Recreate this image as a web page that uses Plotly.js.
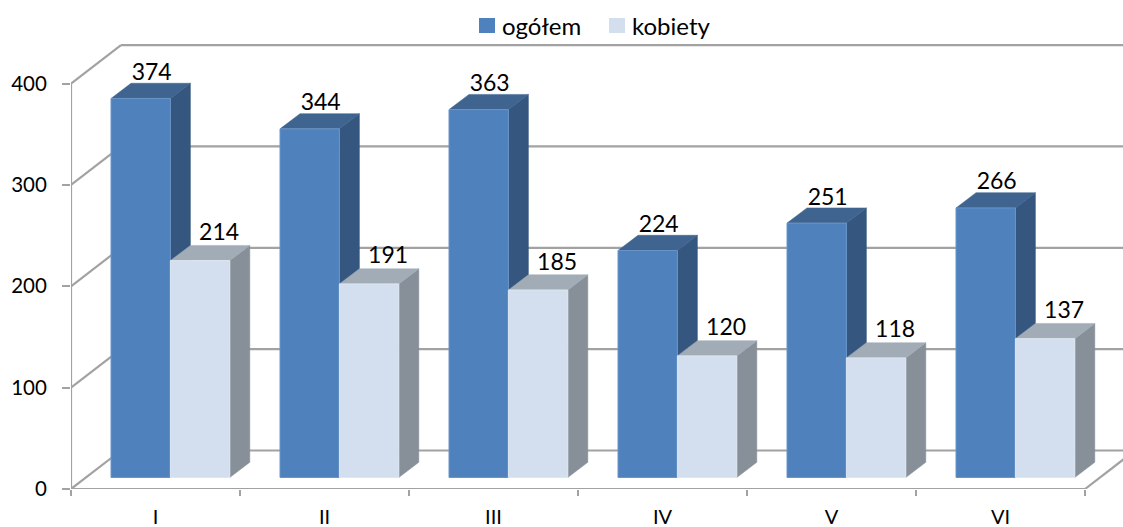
<!DOCTYPE html>
<html><head><meta charset="utf-8">
<script src="https://cdn.plot.ly/plotly-3.0.1.min.js"></script>
<style>html,body{margin:0;padding:0;background:#fff;overflow:hidden}#c{width:1123px;height:527px}</style>
</head><body><div id="c"></div>
<script>
const categories = ["I","II","III","IV","V","VI"];
const ogolem  = [374,344,363,224,251,266];
const kobiety = [214,191,185,120,118,137];
const yTicks  = [0,100,200,300,400];

// page geometry of the pseudo-3D projection
const W=1123,H=527,mL=71,mT=40,y0px=489;
const pxPerCat=169, pxPerVal=1.0135;
const xMax=(W-mL)/pxPerCat, yMax=(y0px-mT)/pxPerVal;
const dx=px=>px/pxPerCat, dy=px=>px/pxPerVal;
const wallDX=dx(50), wallDY=dy(38.5);
const barW=dx(59.4), barStart=dx(40), baseY=dy(11.5);
const depthX=dx(20), depthY=dy(15.2);

const FONT='Lato, Carlito, Calibri, sans-serif';
const GRID='#a2a2a2';

function poly(list){const xs=[],ys=[];list.forEach(p=>{p.forEach(q=>{xs.push(q[0]);ys.push(q[1]);});xs.push(null);ys.push(null);});return {x:xs,y:ys};}
function center(i,s){return i+barStart+barW*(s+0.5);}
function sides(vals,s){return poly(vals.map((v,i)=>{const r=center(i,s)+barW/2,t=baseY+v;return [[r,baseY],[r+depthX,baseY+depthY],[r+depthX,t+depthY],[r,t],[r,baseY]];}));}
function tops(vals,s){return poly(vals.map((v,i)=>{const l=center(i,s)-barW/2,r=l+barW,t=baseY+v;return [[l,t],[r,t],[r+depthX,t+depthY],[l+depthX,t+depthY],[l,t]];}));}
function face(pts,color,z){return {type:'scatter',mode:'lines',x:pts.x,y:pts.y,fill:'toself',fillcolor:color,line:{width:0.5,color:color},hoverinfo:'skip',showlegend:false,zorder:z};}
function bar(vals,s,name,color,edge,z){return {type:'bar',name:name,x:vals.map((v,i)=>center(i,s)),y:vals,base:baseY,width:barW,marker:{color:color,line:{color:edge,width:1}},showlegend:false,zorder:z};}

// wall, floor and axis lines
const gx=[],gy=[];
function seg(a,b,c,d){gx.push(a,c,null);gy.push(b,d,null);}
yTicks.forEach(v=>{
  seg(0,v,wallDX,v+wallDY);
  seg(wallDX,v+wallDY,xMax,v+wallDY);
});
seg(0,0,0,yTicks[yTicks.length-1]);
seg(0,0,categories.length,0);
seg(categories.length,0,categories.length+wallDX,wallDY);

const labelX=[], labelY=[], labelT=[];
ogolem.forEach((v,i)=>{labelX.push(center(i,0)+dx(11));labelY.push(baseY+v+depthY+dy(9));labelT.push(String(v));});
kobiety.forEach((v,i)=>{labelX.push(center(i,1)+dx(19));labelY.push(baseY+v+depthY+dy(11));labelT.push(String(v));});

const traces=[
 {type:'scatter',mode:'lines',x:gx,y:gy,line:{color:GRID,width:2.2},hoverinfo:'skip',showlegend:false,cliponaxis:false,zorder:0},
 face(sides(ogolem,0),'#34567f',1),
 face(tops(ogolem,0),'#3e648f',1),
 bar(ogolem,0,'ogółem','#4f81bd','#6a95c9',2),
 face(sides(kobiety,1),'#878f98',3),
 face(tops(kobiety,1),'#a1acb6',3),
 bar(kobiety,1,'kobiety','#d3dfee','#dde7f2',4),
 {type:'scatter',mode:'text',x:labelX,y:labelY,text:labelT,textposition:'middle center',textfont:{family:FONT,size:23,color:'#000'},hoverinfo:'skip',showlegend:false,cliponaxis:false,zorder:5}
];

const layout={
 width:W,height:H,autosize:false,
 margin:{l:mL,r:0,t:mT,b:H-y0px,pad:0},
 paper_bgcolor:'#fff',plot_bgcolor:'#fff',
 showlegend:false,barmode:'overlay',
 font:{family:FONT,size:21,color:'#000'},
 xaxis:{type:'linear',range:[0,xMax],showgrid:false,zeroline:false,showline:false,
   tickmode:'array',tickvals:categories.map((c,i)=>i+0.5),ticktext:categories,ticks:'',ticklabelstandoff:14,
   tickfont:{family:FONT,size:20,color:'#000'},
   minor:{tickmode:'array',tickvals:categories.map((c,i)=>i).concat([categories.length]),ticks:'outside',ticklen:6,tickwidth:2,tickcolor:GRID,showgrid:false}},
 yaxis:{type:'linear',range:[0,yMax],showgrid:false,zeroline:false,showline:false,
   tickmode:'array',tickvals:yTicks,ticks:'outside',ticklen:8,tickwidth:2,tickcolor:GRID,ticklabelstandoff:11,
   tickfont:{family:FONT,size:20.5,color:'#000'}},
 shapes:[
  {type:'rect',xref:'paper',yref:'paper',xsizemode:'pixel',ysizemode:'pixel',xanchor:0,yanchor:1,x0:479-mL,x1:495-mL,y0:mT-18,y1:mT-33,fillcolor:'#4f81bd',line:{width:0}},
  {type:'rect',xref:'paper',yref:'paper',xsizemode:'pixel',ysizemode:'pixel',xanchor:0,yanchor:1,x0:609-mL,x1:625-mL,y0:mT-18,y1:mT-33,fillcolor:'#d3dfee',line:{width:0}}
 ],
 annotations:[
  {xref:'paper',yref:'paper',x:0,y:1,xshift:502-mL,yshift:mT-25.5,xanchor:'left',yanchor:'middle',text:'ogółem',showarrow:false,font:{family:FONT,size:24,color:'#000'},borderpad:0,borderwidth:0},
  {xref:'paper',yref:'paper',x:0,y:1,xshift:632-mL,yshift:mT-25.5,xanchor:'left',yanchor:'middle',text:'kobiety',showarrow:false,font:{family:FONT,size:24,color:'#000'},borderpad:0,borderwidth:0}
 ]
};
Plotly.newPlot('c',traces,layout,{displayModeBar:false,staticPlot:true});
</script></body></html>
